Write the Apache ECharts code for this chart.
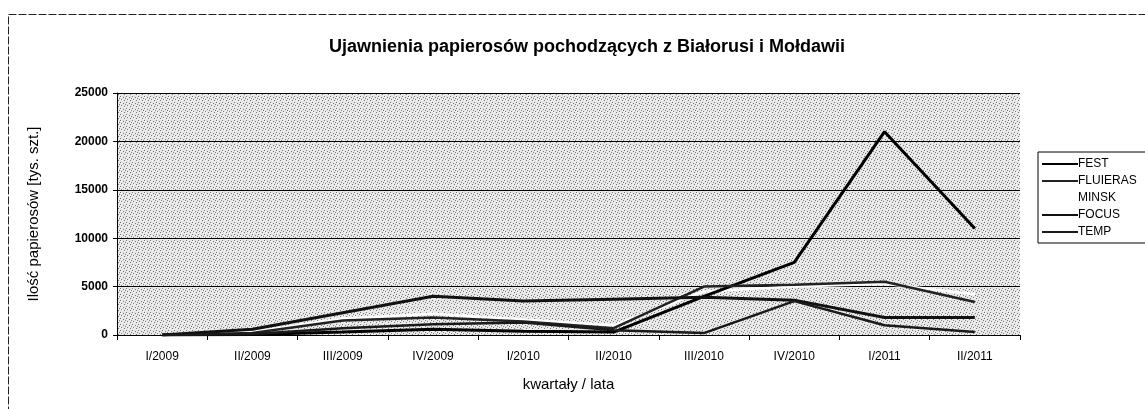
<!DOCTYPE html>
<html>
<head>
  <meta charset="utf-8">
  <style>
    html, body { margin: 0; padding: 0; background: #fff; }
  </style>
</head>
<body>
  <div id="main" style="width: 1145px; height: 409px"></div>
</body>
<script src="https://cdn.jsdelivr.net/npm/echarts@6/dist/echarts.min.js"></script>
<script>
  var kwartaly = ['I/2009', 'II/2009', 'III/2009', 'IV/2009', 'I/2010', 'II/2010', 'III/2010', 'IV/2010', 'I/2011', 'II/2011'];
  var fest     = [0, 50, 300, 600, 400, 300, 4000, 7500, 21000, 11000];
  var fluieras = [0, 200, 1500, 1800, 1400, 700, 5000, 5200, 5500, 3400];
  var minsk    = [0, 300, 1700, 2200, 1600, 1000, 4500, 5000, 5300, 4200];
  var focus    = [0, 600, 2300, 4000, 3500, 3700, 3900, 3600, 1800, 1800];
  var temp     = [0, 100, 700, 1100, 1300, 500, 200, 3500, 1000, 300];

  // stippled plot background
  var pat = document.createElement('canvas');
  pat.width = 6; pat.height = 6;
  var c = pat.getContext('2d');
  c.fillStyle = '#e6e6e6';
  c.fillRect(0, 0, 6, 6);
  c.fillStyle = '#777';
  [[0, 0], [3, 1], [1, 3], [4, 4], [5, 2]].forEach(function (p) { c.fillRect(p[0], p[1], 1, 1); });
  c.fillStyle = '#fafafa';
  [[1, 1], [4, 2], [2, 4], [5, 5], [0, 3]].forEach(function (p) { c.fillRect(p[0], p[1], 1, 1); });

  var myChart = echarts.init(document.getElementById('main'));
  var font = 'Liberation Sans, Arial, sans-serif';

  function linia(name, data, color, width, z) {
    return {
      name: name,
      type: 'line',
      data: data,
      symbol: 'none',
      z: z,
      lineStyle: { color: color, width: width },
      itemStyle: { color: color }
    };
  }

  myChart.setOption({
    animation: false,
    title: {
      text: 'Ujawnienia papierosów pochodzących z Białorusi i Mołdawii',
      left: 582,
      textAlign: 'center',
      top: 33,
      textStyle: { fontFamily: font, fontSize: 18, fontWeight: 'bold', color: '#000' }
    },
    legend: {
      orient: 'vertical',
      left: 1038,
      top: 152,
      padding: [6, 40, 5, 4],
      borderColor: '#000',
      borderWidth: 1,
      itemWidth: 36,
      itemHeight: 2,
      itemGap: 5,
      icon: 'rect',
      data: ['FEST', 'FLUIERAS', 'MINSK', 'FOCUS', 'TEMP'],
      textStyle: { fontFamily: font, fontSize: 12, color: '#000', padding: [0, 0, 0, -5] }
    },
    grid: {
      left: 117,
      right: 125,
      top: 93,
      bottom: 74,
      show: true,
      backgroundColor: { image: pat, repeat: 'repeat' },
      borderWidth: 0
    },
    xAxis: {
      type: 'category',
      data: kwartaly,
      boundaryGap: true,
      name: 'kwartały / lata',
      nameLocation: 'middle',
      nameGap: 42,
      nameTextStyle: { fontFamily: font, fontSize: 15, color: '#000' },
      axisLine: { lineStyle: { color: '#000', width: 1 } },
      axisTick: { show: true, length: 5, lineStyle: { color: '#000' } },
      axisLabel: { fontFamily: font, fontSize: 12, color: '#000', margin: 16 }
    },
    yAxis: {
      type: 'value',
      min: 0,
      max: 25000,
      interval: 5000,
      name: 'Ilość papierosów [tys. szt.]',
      nameLocation: 'middle',
      nameGap: 76,
      nameTextStyle: { fontFamily: font, fontSize: 15, color: '#000' },
      axisLine: { show: true, lineStyle: { color: '#000', width: 1 } },
      axisTick: { show: true, length: 4, lineStyle: { color: '#000' } },
      axisLabel: {
        fontFamily: font, fontSize: 12, fontWeight: 'bold', color: '#000', margin: 9,
        formatter: function (v) { return String(v); }
      },
      splitLine: { show: true, lineStyle: { color: '#000', width: 1 } }
    },
    graphic: [{
      type: 'rect',
      shape: { x: 8.5, y: 14.5, width: 1160, height: 420 },
      style: { fill: 'none', stroke: '#222', lineWidth: 1, lineDash: [8, 2] },
      silent: true
    }],
    series: [
      linia('FEST', fest, '#000', 3, 3),
      linia('FLUIERAS', fluieras, '#222', 2.5, 3),
      linia('MINSK', minsk, '#fff', 2.5, 2),
      linia('FOCUS', focus, '#111', 3, 3),
      linia('TEMP', temp, '#1a1a1a', 2.5, 3)
    ]
  });
</script>
</html>
